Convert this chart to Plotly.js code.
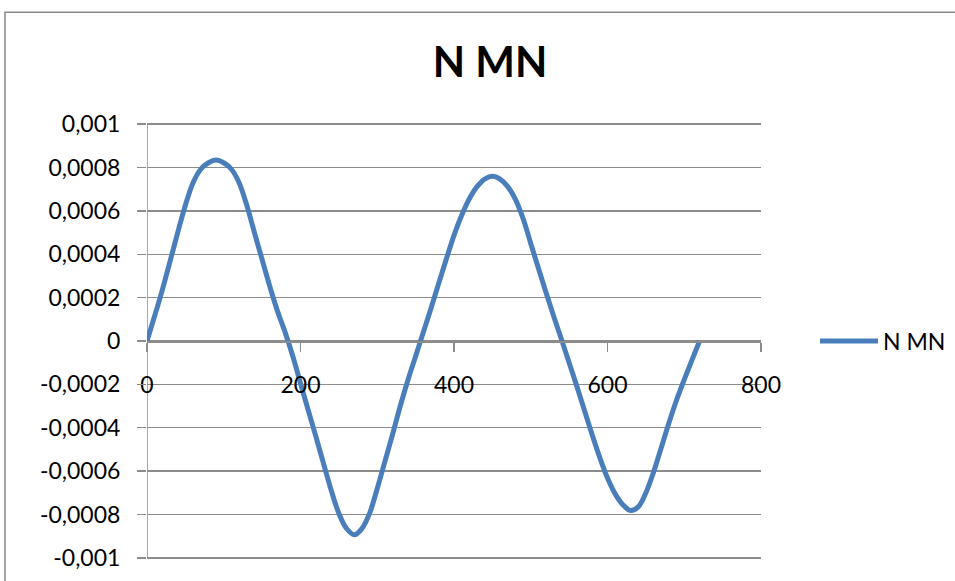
<!DOCTYPE html>
<html>
<head>
<meta charset="utf-8">
<script src="https://cdn.plot.ly/plotly-3.0.1.min.js"></script>
<style>
  html, body { margin: 0; padding: 0; background: #ffffff; }
  #chart { width: 955px; height: 581px; }
</style>
</head>
<body>
<div id="chart"></div>
<script>
// Angle values (x) and series values (y)
const xValues = [
  0, 10, 20, 30, 40, 50, 60, 70, 80, 90,
  100, 110, 120, 130, 140, 150, 160, 170, 180, 190,
  200, 210, 220, 230, 240, 250, 260, 270, 280, 290,
  300, 310, 320, 330, 340, 350, 360, 370, 380, 390,
  400, 410, 420, 430, 440, 450, 460, 470, 480, 490,
  500, 510, 520, 530, 540, 550, 560, 570, 580, 590,
  600, 610, 620, 630, 640, 650, 660, 670, 680, 690,
  700, 710, 720
];
const nmnValues = [
  0, 0.000116, 0.000236, 0.000367, 0.0005, 0.000626, 0.00073, 0.000792, 0.000822, 0.000835,
  0.000822, 0.000792, 0.00073, 0.000626, 0.0005, 0.000375, 0.000252, 0.000138, 0.00004, -0.00007,
  -0.000195, -0.000318, -0.00044, -0.000565, -0.000688, -0.000795, -0.000865, -0.000894, -0.000865, -0.000795,
  -0.00068, -0.000555, -0.00043, -0.0003, -0.00018, -0.00007, 0.00004, 0.00015, 0.000265, 0.000378,
  0.000487, 0.00058, 0.000656, 0.000712, 0.000747, 0.00076, 0.000747, 0.000712, 0.000653, 0.000565,
  0.00045, 0.000335, 0.000222, 0.000113, 0.000008, -0.0001, -0.000208, -0.00032, -0.000432, -0.000538,
  -0.000632, -0.000705, -0.000755, -0.000782, -0.000765, -0.0007, -0.000605, -0.000492, -0.000378, -0.000272,
  -0.000178, -0.000088, 0
];
const seriesName = 'N MN';
const chartTitle = 'N MN';
const xTickVals = [0, 200, 400, 600, 800];
const xTickText = ['0', '200', '400', '600', '800'];
const yTickVals = [0.001, 0.0008, 0.0006, 0.0004, 0.0002, 0, -0.0002, -0.0004, -0.0006, -0.0008, -0.001];
const yTickText = ['0,001', '0,0008', '0,0006', '0,0004', '0,0002', '0', '-0,0002', '-0,0004', '-0,0006', '-0,0008', '-0,001'];

const GRID = '#8c8c8c';
const FONT = 'Lato, "Open Sans", sans-serif';

const trace = {
  x: xValues,
  y: nmnValues,
  type: 'scatter',
  mode: 'lines',
  name: seriesName,
  line: { color: '#4a7ebb', width: 5, shape: 'spline', smoothing: 1 }
};

// plot area in pixels: y = ±0.001 at 124 / 558, x = 0..800 at 147..761
const L = 147, R = 761, T = 124, B = 558;
const PAD = 0.00001;                       // small range pad so edge gridlines are drawn
const padPx = PAD / 0.002 * (B - T);
const TT = T - padPx, BB = B + padPx;
const px = v => (v - L) / (R - L);
const py = v => (BB - v) / (BB - TT);

const layout = {
  width: 955,
  height: 581,
  paper_bgcolor: '#ffffff',
  plot_bgcolor: '#ffffff',
  margin: { l: L, r: 955 - R, t: TT, b: 581 - BB, autoexpand: false },
  font: { family: FONT, size: 23, color: '#000000' },
  title: {
    text: chartTitle,
    font: { family: FONT, size: 42, color: '#000000', weight: 'bold' },
    xref: 'container', yref: 'container',
    x: 490 / 955, xanchor: 'center',
    y: 1 - 62 / 581, yanchor: 'middle'
  },
  showlegend: true,
  legend: {
    x: px(815), xanchor: 'left',
    y: 0.5, yanchor: 'middle',
    font: { family: FONT, size: 23, color: '#000000' },
    bgcolor: 'rgba(0,0,0,0)',
    itemwidth: 58
  },
  xaxis: {
    range: [0, 800],
    tickmode: 'array',
    tickvals: xTickVals,
    ticktext: xTickText,
    anchor: 'free',
    position: 0.5,
    showgrid: false,
    zeroline: false,
    showline: true,
    linecolor: GRID,
    linewidth: 1.5,
    ticks: 'outside',
    ticklen: 9,
    tickwidth: 1.5,
    tickcolor: GRID,
    ticklabelstandoff: 14,
    tickfont: { family: FONT, size: 23, color: '#000000' },
    fixedrange: true
  },
  yaxis: {
    range: [-0.001 - PAD, 0.001 + PAD],
    tickmode: 'array',
    tickvals: yTickVals,
    ticktext: yTickText,
    showgrid: true,
    gridcolor: GRID,
    gridwidth: 1.5,
    zeroline: false,
    showline: false,
    ticks: 'outside',
    ticklen: 9,
    tickwidth: 1.5,
    tickcolor: GRID,
    ticklabelstandoff: 12,
    tickfont: { family: FONT, size: 23, color: '#000000' },
    fixedrange: true
  },
  shapes: [
    // vertical value axis line between the end gridlines
    {
      type: 'line', xref: 'x', yref: 'y',
      x0: 0, x1: 0, y0: -0.001, y1: 0.001,
      line: { color: GRID, width: 1.5 },
      layer: 'below'
    },
    // chart border (top and left edges visible in the crop)
    {
      type: 'path', xref: 'paper', yref: 'paper',
      path: 'M ' + px(5) + ',' + py(600) + ' L ' + px(5) + ',' + py(12) + ' L ' + px(960) + ',' + py(12),
      line: { color: '#8a8a8a', width: 1.5 },
      layer: 'above'
    }
  ]
};

Plotly.newPlot('chart', [trace], layout, { displayModeBar: false, staticPlot: true });
</script>
</body>
</html>
